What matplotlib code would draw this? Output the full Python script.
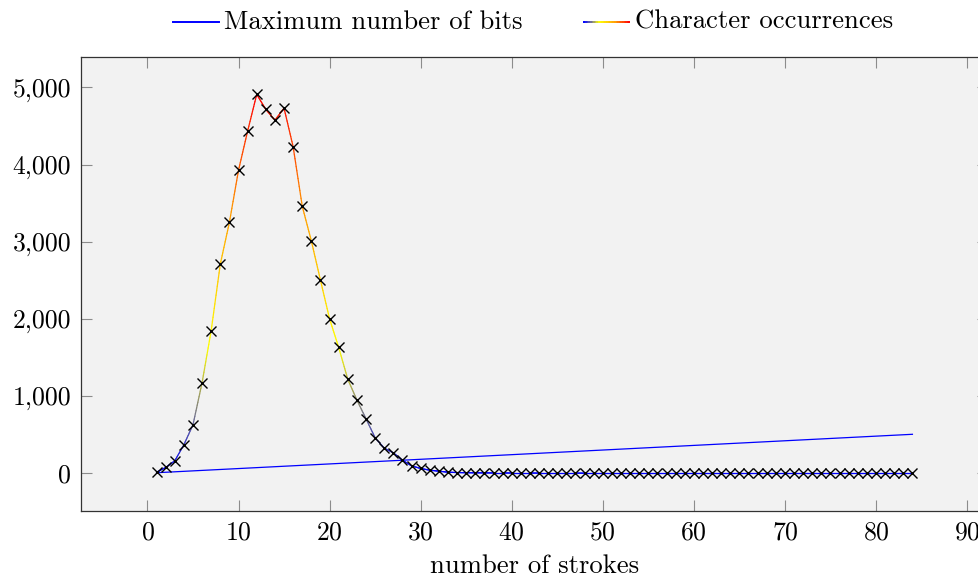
import numpy as np
import matplotlib
matplotlib.use("Agg")
import matplotlib.pyplot as plt
from matplotlib.collections import LineCollection
from matplotlib.colors import LinearSegmentedColormap, Normalize
from matplotlib.lines import Line2D
from matplotlib.ticker import FuncFormatter, MultipleLocator

plt.rcParams['font.family'] = 'serif'
plt.rcParams['font.serif'] = ['cmr10']
plt.rcParams['axes.formatter.use_mathtext'] = True
plt.rcParams['mathtext.fontset'] = 'cm'

# data
strokes = list(range(1, 85))
occurrences = [13, 74, 160, 368, 627, 1173, 1848, 2710, 3251, 3926,
               4433, 4909, 4714, 4575, 4731, 4230, 3459, 3009, 2500, 2000,
               1630, 1217, 948, 705, 459, 325, 264, 169, 95, 61,
               39, 26, 13, 8, 6, 5, 4, 3, 3, 2,
               2, 2, 1, 1, 1, 1, 1, 0, 0, 0,
               0, 0, 0, 0, 0, 0, 0, 0, 0, 0,
               0, 0, 0, 0, 0, 0, 0, 0, 0, 0,
               0, 0, 0, 0, 0, 0, 0, 0, 0, 0,
               0, 0, 0, 0]
bits_x = [1, 84]
bits_y = [6, 504]

hot = LinearSegmentedColormap.from_list('hot_pgf', ['blue', 'yellow', 'orange', 'red'])
norm = Normalize(min(occurrences), max(occurrences))
FS = 18.5
LFS = 19.2


def thousands(v, pos):
    return '{:,}'.format(int(round(v)))


fig = plt.figure(figsize=(9.79, 5.77), dpi=100)
ax = fig.add_axes([0.0827, 0.1144, 0.9265, 0.7863])
ax.set_facecolor('#f2f2f2')

ax.plot(bits_x, bits_y, color='blue', lw=0.9, zorder=2)

# gradient coloured line (colour follows the y value)
segs, cols = [], []
for i in range(len(strokes) - 1):
    xs = np.linspace(strokes[i], strokes[i + 1], 16)
    ys = np.linspace(occurrences[i], occurrences[i + 1], 16)
    for j in range(15):
        segs.append([(xs[j], ys[j]), (xs[j + 1], ys[j + 1])])
        cols.append(hot(norm((ys[j] + ys[j + 1]) / 2)))
lc = LineCollection(segs, colors=cols, linewidths=0.9, zorder=3, capstyle='round')
ax.add_collection(lc)
ax.plot(strokes, occurrences, ls='none', marker='x', ms=6.5, mew=1.0, color='black', zorder=4)

ax.set_xlim(-7.3, 92.3)
ax.set_ylim(-490, 5390)
ax.xaxis.set_major_locator(MultipleLocator(10))
ax.yaxis.set_major_locator(MultipleLocator(1000))
ax.yaxis.set_major_formatter(FuncFormatter(thousands))
ax.tick_params(direction='in', length=8, width=0.8, color='0.55', labelsize=FS,
               top=True, right=True, pad=7)
for s in ax.spines.values():
    s.set_color('0.2')
    s.set_linewidth(0.9)
ax.set_xlabel('number of strokes', fontsize=LFS, labelpad=7)

# legend above the axes
ly = 0.962
fig.add_artist(Line2D([0.1772, 0.2237], [ly, ly], color='blue', lw=1.4, transform=fig.transFigure))
fig.text(0.2288, ly, 'Maximum number of bits', fontsize=LFS, va='center', ha='left')
lx = np.linspace(0.596, 0.6435, 30)
lsegs = [[(lx[k], ly), (lx[k + 1], ly)] for k in range(29)]
lcols = [hot(k / 28) for k in range(29)]
fig.add_artist(LineCollection(lsegs, colors=lcols, linewidths=1.4, transform=fig.transFigure))
fig.text(0.6486, ly, 'Character occurrences', fontsize=LFS, va='center', ha='left')

fig.savefig('out.png', dpi=100)
